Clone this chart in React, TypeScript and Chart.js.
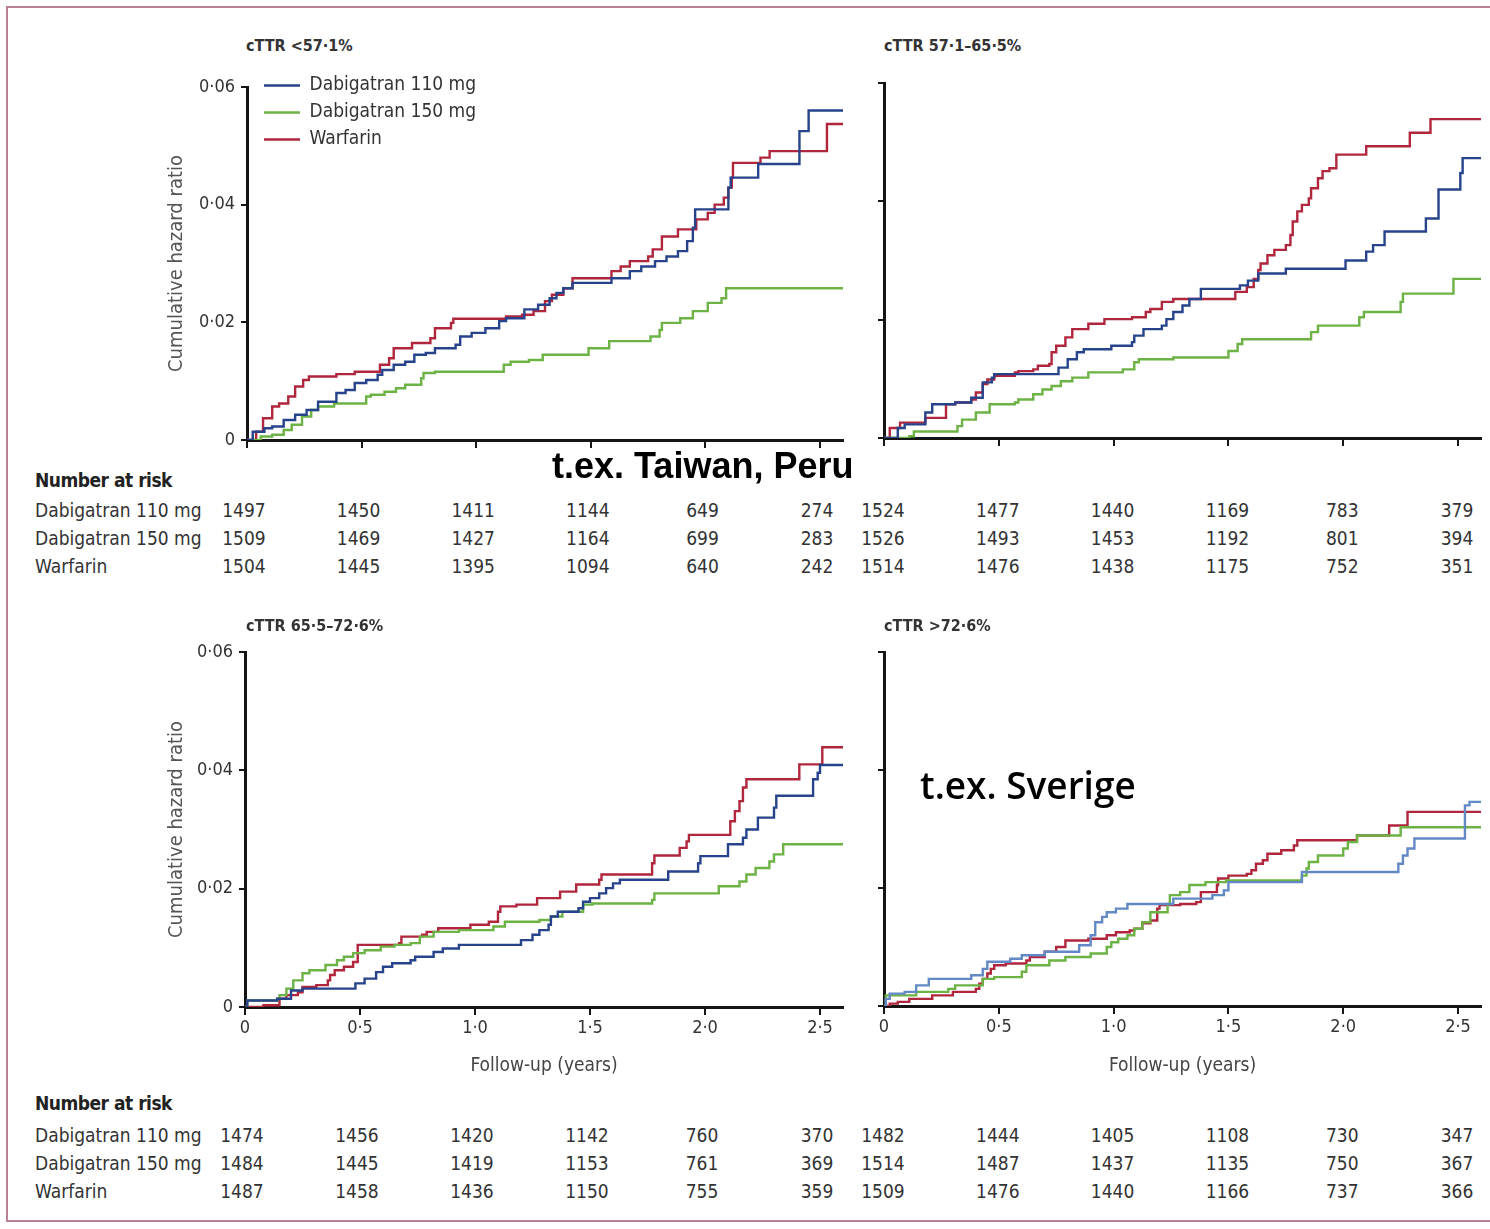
import React, { useEffect, useRef } from 'react';
import { Chart, registerables } from 'chart.js';

Chart.register(...registerables);

const FONT = '"DejaVu Sans Condensed", "Liberation Sans Narrow", "Arial Narrow", sans-serif';
Chart.defaults.font.family = FONT;
Chart.defaults.color = '#333';

// ---------- labels ----------
const seriesNames = ['Dabigatran 110 mg', 'Dabigatran 150 mg', 'Warfarin'];
const panelTitles = ['cTTR <57·1%', 'cTTR 57·1–65·5%', 'cTTR 65·5–72·6%', 'cTTR >72·6%'];
const xTickValues = [0, 0.5, 1, 1.5, 2, 2.5];
const xTickLabels = ['0', '0·5', '1·0', '1·5', '2·0', '2·5'];
const yTickValues = [0, 0.02, 0.04, 0.06];
const yTickLabels = ['0', '0·02', '0·04', '0·06'];
const X_MAX = 2.6;
const Y_MAX = 0.06;

// ---------- curves: [years, cumulative hazard] ----------
const pA_d110 = [[0,0],[0.025,0.0014],[0.076,0.002],[0.11,0.0023],[0.16,0.0034],[0.21,0.0043],[0.26,0.0051],[0.31,0.0065],[0.39,0.008],[0.43,0.0085],[0.47,0.0097],[0.52,0.0102],[0.57,0.0111],[0.59,0.0119],[0.64,0.0128],[0.69,0.0133],[0.73,0.0145],[0.78,0.0148],[0.82,0.0156],[0.91,0.0162],[0.93,0.0176],[0.98,0.0182],[1.04,0.019],[1.1,0.0202],[1.13,0.0207],[1.21,0.0222],[1.27,0.023],[1.32,0.0241],[1.35,0.025],[1.38,0.0258],[1.42,0.0267],[1.59,0.0275],[1.67,0.0287],[1.72,0.0295],[1.78,0.0304],[1.83,0.0312],[1.88,0.0321],[1.92,0.0338],[1.945,0.0361],[1.955,0.0392],[2.1,0.0429],[2.11,0.0446],[2.23,0.0469],[2.41,0.0525],[2.45,0.056],[2.6,0.056]];
const pA_d150 = [[0,0],[0.06,0.0006],[0.11,0.0009],[0.16,0.0017],[0.195,0.0026],[0.24,0.004],[0.28,0.0051],[0.31,0.0057],[0.38,0.0062],[0.52,0.0074],[0.54,0.0077],[0.6,0.0082],[0.65,0.0088],[0.69,0.0094],[0.76,0.0105],[0.77,0.0114],[0.82,0.0116],[1.12,0.0128],[1.15,0.0133],[1.23,0.0136],[1.29,0.0145],[1.49,0.0156],[1.58,0.0168],[1.76,0.0176],[1.8,0.0187],[1.81,0.0199],[1.89,0.0207],[1.945,0.0219],[2.01,0.0233],[2.07,0.0241],[2.09,0.0258],[2.6,0.0258]];
const pA_warf = [[0,0],[0.04,0.0014],[0.07,0.0037],[0.11,0.0057],[0.14,0.0062],[0.18,0.0074],[0.21,0.0091],[0.245,0.0102],[0.27,0.0108],[0.39,0.0112],[0.47,0.0116],[0.58,0.0128],[0.62,0.0139],[0.64,0.0156],[0.72,0.0165],[0.8,0.0173],[0.82,0.019],[0.89,0.0199],[0.9,0.0206],[1.13,0.021],[1.2,0.0213],[1.25,0.0219],[1.3,0.0236],[1.33,0.0247],[1.38,0.0258],[1.42,0.0275],[1.59,0.0287],[1.63,0.0295],[1.67,0.0304],[1.75,0.0312],[1.77,0.0324],[1.81,0.0346],[1.88,0.0358],[1.96,0.0375],[2.01,0.0386],[2.04,0.04],[2.08,0.0412],[2.1,0.0429],[2.115,0.0446],[2.12,0.0471],[2.24,0.048],[2.28,0.0491],[2.53,0.0537],[2.6,0.0537]];

const pB_d110 = [[0,0],[0.06,0.0017],[0.09,0.0023],[0.18,0.0043],[0.21,0.0057],[0.31,0.006],[0.38,0.0068],[0.43,0.0094],[0.47,0.0102],[0.48,0.0108],[0.76,0.0119],[0.8,0.0133],[0.84,0.0145],[0.87,0.015],[0.99,0.0156],[1.08,0.0162],[1.09,0.0173],[1.13,0.0184],[1.21,0.019],[1.23,0.0201],[1.26,0.0213],[1.3,0.0224],[1.33,0.0235],[1.38,0.0252],[1.55,0.0258],[1.585,0.0266],[1.63,0.0278],[1.75,0.0286],[2.01,0.03],[2.1,0.0315],[2.13,0.0326],[2.18,0.0349],[2.36,0.0371],[2.415,0.042],[2.51,0.0448],[2.52,0.0473],[2.6,0.0473]];
const pB_d150 = [[0,0],[0.11,0.0003],[0.13,0.0011],[0.32,0.002],[0.34,0.0031],[0.4,0.0043],[0.46,0.0057],[0.57,0.006],[0.585,0.0065],[0.65,0.0074],[0.69,0.0082],[0.73,0.0088],[0.77,0.0096],[0.82,0.0102],[0.89,0.0111],[1.04,0.0116],[1.09,0.0128],[1.11,0.0133],[1.26,0.0136],[1.5,0.0147],[1.54,0.0159],[1.56,0.0167],[1.86,0.0179],[1.89,0.019],[2.07,0.0204],[2.09,0.0213],[2.25,0.023],[2.26,0.0244],[2.48,0.0269],[2.6,0.0269]];
const pB_warf = [[0,0],[0.025,0.0017],[0.07,0.0026],[0.18,0.0034],[0.27,0.0057],[0.31,0.006],[0.38,0.0065],[0.4,0.0077],[0.43,0.0091],[0.45,0.0099],[0.48,0.0105],[0.57,0.0111],[0.585,0.0113],[0.65,0.0116],[0.67,0.0122],[0.72,0.0125],[0.73,0.0145],[0.75,0.0156],[0.79,0.017],[0.82,0.0184],[0.89,0.0193],[0.96,0.0201],[1.08,0.0204],[1.14,0.0213],[1.16,0.0218],[1.21,0.023],[1.26,0.0235],[1.53,0.0247],[1.58,0.0255],[1.61,0.0269],[1.63,0.0284],[1.64,0.0295],[1.67,0.0309],[1.7,0.0318],[1.75,0.0326],[1.77,0.0343],[1.78,0.0366],[1.8,0.0383],[1.82,0.0394],[1.85,0.0405],[1.86,0.0422],[1.89,0.0439],[1.91,0.0451],[1.94,0.0456],[1.97,0.0479],[2.1,0.0493],[2.29,0.0516],[2.38,0.0539],[2.6,0.0539]];

const pC_d110 = [[0,0],[0.01,0.0011],[0.14,0.0014],[0.2,0.0028],[0.25,0.0031],[0.48,0.004],[0.52,0.0048],[0.57,0.0059],[0.6,0.0068],[0.64,0.0074],[0.72,0.0079],[0.74,0.0085],[0.82,0.0093],[0.86,0.0099],[0.93,0.0105],[1.2,0.0113],[1.25,0.0122],[1.28,0.013],[1.32,0.0139],[1.33,0.0153],[1.36,0.0161],[1.45,0.0167],[1.47,0.0178],[1.5,0.0184],[1.54,0.0192],[1.57,0.0201],[1.6,0.0209],[1.63,0.0215],[1.84,0.0229],[1.97,0.0243],[1.98,0.0255],[2.1,0.0275],[2.165,0.0286],[2.18,0.03],[2.23,0.032],[2.3,0.0337],[2.31,0.0357],[2.47,0.0385],[2.49,0.0396],[2.5,0.0409],[2.6,0.0409]];
const pC_d150 = [[0,0],[0.01,0.0011],[0.14,0.0014],[0.15,0.002],[0.18,0.0031],[0.21,0.0045],[0.25,0.0057],[0.28,0.0062],[0.35,0.0071],[0.4,0.0079],[0.43,0.0085],[0.47,0.0091],[0.52,0.0096],[0.59,0.0102],[0.65,0.0105],[0.72,0.0108],[0.76,0.0119],[0.82,0.0127],[0.93,0.013],[1.08,0.0136],[1.13,0.0144],[1.28,0.0147],[1.33,0.0153],[1.38,0.0161],[1.47,0.0173],[1.51,0.0175],[1.77,0.0181],[1.78,0.0192],[2.06,0.0204],[2.15,0.0212],[2.18,0.0224],[2.22,0.0235],[2.28,0.0246],[2.3,0.0258],[2.34,0.0275],[2.6,0.0275]];
const pC_warf = [[0,0],[0.08,0.0003],[0.15,0.0014],[0.18,0.002],[0.23,0.0025],[0.25,0.0034],[0.31,0.0037],[0.36,0.0045],[0.37,0.0054],[0.39,0.0062],[0.43,0.0068],[0.47,0.0076],[0.49,0.0105],[0.67,0.0108],[0.68,0.0119],[0.77,0.0122],[0.79,0.0127],[0.84,0.0133],[0.98,0.0139],[1.06,0.0144],[1.1,0.0161],[1.11,0.017],[1.18,0.0173],[1.27,0.0184],[1.37,0.0195],[1.44,0.0207],[1.54,0.0215],[1.55,0.0224],[1.77,0.0243],[1.78,0.0256],[1.89,0.0269],[1.92,0.028],[1.93,0.0291],[2.11,0.0314],[2.13,0.0331],[2.15,0.0348],[2.165,0.0371],[2.18,0.0385],[2.41,0.041],[2.51,0.0439],[2.6,0.0439]];

const pD_d110 = [[0,0],[0.008,0.0012],[0.025,0.0021],[0.09,0.0024],[0.14,0.0035],[0.195,0.0046],[0.38,0.0052],[0.43,0.0063],[0.45,0.0075],[0.55,0.008],[0.6,0.0086],[0.7,0.0092],[0.85,0.0103],[0.9,0.012],[0.92,0.0142],[0.95,0.0151],[0.97,0.0159],[1.01,0.0165],[1.06,0.0173],[1.26,0.0182],[1.43,0.0188],[1.48,0.0196],[1.5,0.021],[1.82,0.0227],[2.24,0.0241],[2.26,0.0255],[2.28,0.0267],[2.31,0.0284],[2.53,0.034],[2.55,0.0346],[2.6,0.0346]];
const pD_d150 = [[0,0],[0.008,0.0018],[0.14,0.0024],[0.28,0.0029],[0.31,0.0035],[0.43,0.0046],[0.48,0.0049],[0.6,0.0058],[0.62,0.0069],[0.72,0.0077],[0.79,0.0083],[0.9,0.0089],[0.97,0.01],[0.99,0.0108],[1.02,0.0114],[1.06,0.012],[1.09,0.0131],[1.125,0.0142],[1.16,0.0159],[1.235,0.0173],[1.245,0.0188],[1.29,0.0193],[1.33,0.0205],[1.4,0.021],[1.49,0.0213],[1.82,0.0221],[1.84,0.0233],[1.85,0.0244],[1.89,0.0255],[2.0,0.0267],[2.02,0.0278],[2.06,0.0289],[2.25,0.0303],[2.6,0.0303]];
const pD_warf = [[0,0],[0.025,0.0004],[0.06,0.0007],[0.11,0.0012],[0.21,0.0018],[0.3,0.0024],[0.4,0.0029],[0.415,0.0038],[0.43,0.0046],[0.45,0.0055],[0.465,0.0063],[0.48,0.0069],[0.53,0.0072],[0.62,0.0077],[0.635,0.0083],[0.7,0.0092],[0.75,0.01],[0.79,0.0111],[0.89,0.0114],[0.97,0.012],[1.01,0.0125],[1.07,0.0128],[1.09,0.0131],[1.125,0.014],[1.16,0.0145],[1.19,0.0165],[1.2,0.0171],[1.29,0.0173],[1.36,0.0176],[1.38,0.0193],[1.45,0.0205],[1.455,0.0216],[1.5,0.0221],[1.58,0.0224],[1.6,0.023],[1.62,0.0241],[1.65,0.0247],[1.67,0.0258],[1.73,0.0264],[1.785,0.0272],[1.8,0.0281],[2.06,0.0289],[2.2,0.0306],[2.28,0.0329],[2.6,0.0329]];

// ---------- number at risk ----------
const riskA_d110 = [1497, 1450, 1411, 1144, 649, 274];
const riskA_d150 = [1509, 1469, 1427, 1164, 699, 283];
const riskA_warf = [1504, 1445, 1395, 1094, 640, 242];
const riskB_d110 = [1524, 1477, 1440, 1169, 783, 379];
const riskB_d150 = [1526, 1493, 1453, 1192, 801, 394];
const riskB_warf = [1514, 1476, 1438, 1175, 752, 351];
const riskC_d110 = [1474, 1456, 1420, 1142, 760, 370];
const riskC_d150 = [1484, 1445, 1419, 1153, 761, 369];
const riskC_warf = [1487, 1458, 1436, 1150, 755, 359];
const riskD_d110 = [1482, 1444, 1405, 1108, 730, 347];
const riskD_d150 = [1514, 1487, 1437, 1135, 750, 367];
const riskD_warf = [1509, 1476, 1440, 1166, 737, 366];

const annotations = ['t.ex. Taiwan, Peru', 't.ex. Sverige'];

// ---------- styling / layout ----------
const BLUE = '#27438c';
const BLUE_LIGHT = '#6388c6';
const GREEN = '#6cb244';
const RED = '#b0263d';
const AXIS = '#151515';

type PanelCfg = {
  left: number; top: number; width: number; height: number;
  padTop: number; padRight: number; yWidth: number; xHeight: number;
  showY: boolean; showX: boolean; legend: boolean; blue: string;
};

const panelA: PanelCfg = { left: 140, top: 60, width: 720, height: 400, padTop: 27, padRight: 17, yWidth: 107, xHeight: 20, showY: true, showX: false, legend: true, blue: BLUE };
const panelB: PanelCfg = { left: 860, top: 60, width: 630, height: 400, padTop: 23, padRight: 9, yWidth: 24, xHeight: 22, showY: false, showX: false, legend: false, blue: BLUE };
const panelC: PanelCfg = { left: 140, top: 630, width: 720, height: 450, padTop: 22, padRight: 17, yWidth: 105, xHeight: 73, showY: true, showX: true, legend: false, blue: BLUE };
const panelD: PanelCfg = { left: 860, top: 630, width: 630, height: 450, padTop: 22, padRight: 9, yWidth: 24, xHeight: 74, showY: false, showX: true, legend: false, blue: BLUE_LIGHT };

const labelFor = (values: number[], labels: string[], v: number) => {
  const i = values.findIndex((t) => Math.abs(t - v) < 1e-9);
  return i >= 0 ? labels[i] : '';
};

const legendPlace = {
  id: 'legendPlace',
  afterLayout(chart: any) {
    const lg = chart.legend;
    if (!lg || !chart.options.plugins.legend.display) return;
    const ca = chart.chartArea;
    lg.left = ca.left + 9;
    lg.top = ca.top - 19;
    lg.right = lg.left + lg.width;
    lg.bottom = lg.top + lg.height;
  },
};

function KMChart({ cfg, curves }: { cfg: PanelCfg; curves: number[][][] }) {
  const ref = useRef<HTMLCanvasElement>(null);
  useEffect(() => {
    const colors = [cfg.blue, GREEN, RED];
    const chart = new Chart(ref.current as HTMLCanvasElement, {
      type: 'line',
      data: {
        datasets: curves.map((pts, i) => ({
          label: seriesNames[i],
          data: pts.map(([x, y]) => ({ x, y })),
          borderColor: colors[i],
          backgroundColor: colors[i],
          borderWidth: 2.4,
          pointRadius: 0,
          stepped: 'before' as const,
          fill: false,
        })),
      },
      options: {
        responsive: false,
        animation: false,
        events: [],
        layout: { padding: { left: 0, top: cfg.padTop, right: cfg.padRight, bottom: 0 } },
        plugins: {
          tooltip: { enabled: false },
          legend: {
            display: cfg.legend,
            position: 'chartArea' as any,
            align: 'start',
            labels: {
              usePointStyle: true,
              pointStyle: 'line',
              pointStyleWidth: 36,
              color: '#333',
              padding: 8,
              font: { size: 19, family: FONT },
            },
          },
        },
        scales: {
          x: {
            type: 'linear',
            min: 0,
            max: X_MAX,
            afterBuildTicks: (s: any) => { s.ticks = xTickValues.map((v) => ({ value: v })); },
            afterFit: (s: any) => { s.height = cfg.xHeight; },
            ticks: {
              display: cfg.showX,
              autoSkip: false,
              maxRotation: 0,
              padding: 3,
              color: '#333',
              font: { size: 18 },
              callback: (v: any) => labelFor(xTickValues, xTickLabels, Number(v)),
            },
            grid: { drawOnChartArea: false, drawTicks: true, tickLength: 8, color: AXIS, lineWidth: 2 },
            border: { display: true, color: AXIS, width: 3 },
            title: {
              display: cfg.showX,
              text: 'Follow-up (years)',
              color: '#444',
              font: { size: 19 },
              padding: { top: 0, bottom: 3 },
            },
          },
          y: {
            type: 'linear',
            min: 0,
            max: Y_MAX,
            afterBuildTicks: (s: any) => { s.ticks = yTickValues.map((v) => ({ value: v })); },
            afterFit: (s: any) => { s.width = cfg.yWidth; },
            ticks: {
              display: cfg.showY,
              padding: 6,
              color: '#333',
              font: { size: 18 },
              callback: (v: any) => labelFor(yTickValues, yTickLabels, Number(v)),
            },
            grid: { drawOnChartArea: false, drawTicks: true, tickLength: 6, color: AXIS, lineWidth: 2 },
            border: { display: true, color: AXIS, width: 3 },
            title: {
              display: cfg.showY,
              text: 'Cumulative hazard ratio',
              color: '#555',
              font: { size: 20 },
              padding: { top: 25, bottom: 0 },
            },
          },
        },
      } as any,
      plugins: [legendPlace],
    });
    return () => chart.destroy();
  }, []);
  return (
    <canvas
      ref={ref}
      width={cfg.width}
      height={cfg.height}
      style={{ position: 'absolute', left: cfg.left, top: cfg.top, width: cfg.width, height: cfg.height }}
    />
  );
}

function Txt(p: { x: number; y: number; center?: boolean; style?: React.CSSProperties; children: React.ReactNode }) {
  const h = 24;
  return (
    <div
      style={{
        position: 'absolute',
        left: p.center ? p.x - 50 : p.x,
        top: p.y - h / 2,
        width: p.center ? 100 : undefined,
        height: h,
        lineHeight: h + 'px',
        textAlign: p.center ? 'center' : 'left',
        whiteSpace: 'nowrap',
        fontFamily: FONT,
        fontSize: 19,
        color: '#333',
        ...p.style,
      }}
    >
      {p.children}
    </div>
  );
}

const colCenters = (cfg: PanelCfg, shift: number) => {
  const plotLeft = cfg.left + cfg.yWidth;
  const plotRight = cfg.left + cfg.width - cfg.padRight;
  const ppy = (plotRight - plotLeft) / X_MAX;
  return xTickValues.map((t) => plotLeft + t * ppy + shift);
};

function RiskBlock({ headerY, rowYs, leftCfg, rightCfg, leftRows, rightRows }: {
  headerY: number; rowYs: number[]; leftCfg: PanelCfg; rightCfg: PanelCfg; leftRows: number[][]; rightRows: number[][];
}) {
  const lc = colCenters(leftCfg, -3);
  const rc = colCenters(rightCfg, -1);
  return (
    <>
      <Txt x={35} y={headerY} style={{ fontWeight: 'bold', fontSize: 19, letterSpacing: -0.5, color: '#222' }}>Number at risk</Txt>
      {seriesNames.map((n, i) => (
        <Txt key={'l' + i} x={35} y={rowYs[i]}>{n}</Txt>
      ))}
      {leftRows.map((row, i) => row.map((v, j) => (
        <Txt key={'a' + i + '-' + j} x={lc[j]} y={rowYs[i]} center style={{ fontSize: 19 }}>{v}</Txt>
      )))}
      {rightRows.map((row, i) => row.map((v, j) => (
        <Txt key={'b' + i + '-' + j} x={rc[j]} y={rowYs[i]} center style={{ fontSize: 19 }}>{v}</Txt>
      )))}
    </>
  );
}

export default function App() {
  return (
    <div style={{ position: 'absolute', left: 0, top: 0, width: 1490, height: 1229, overflow: 'hidden', background: '#fff' }}>
      <div style={{ position: 'absolute', left: 6, top: 6, width: 1500, height: 1216, border: '2px solid #b88290', boxSizing: 'border-box' }} />

      <KMChart cfg={panelA} curves={[pA_d110, pA_d150, pA_warf]} />
      <KMChart cfg={panelB} curves={[pB_d110, pB_d150, pB_warf]} />
      <KMChart cfg={panelC} curves={[pC_d110, pC_d150, pC_warf]} />
      <KMChart cfg={panelD} curves={[pD_d110, pD_d150, pD_warf]} />

      <Txt x={246} y={46} style={{ fontWeight: 'bold', fontSize: 16, color: '#333' }}>{panelTitles[0]}</Txt>
      <Txt x={884} y={46} style={{ fontWeight: 'bold', fontSize: 16, color: '#333' }}>{panelTitles[1]}</Txt>
      <Txt x={246} y={626} style={{ fontWeight: 'bold', fontSize: 16, color: '#333' }}>{panelTitles[2]}</Txt>
      <Txt x={884} y={626} style={{ fontWeight: 'bold', fontSize: 16, color: '#333' }}>{panelTitles[3]}</Txt>

      <RiskBlock
        headerY={480}
        rowYs={[510, 538, 566]}
        leftCfg={panelA}
        rightCfg={panelB}
        leftRows={[riskA_d110, riskA_d150, riskA_warf]}
        rightRows={[riskB_d110, riskB_d150, riskB_warf]}
      />
      <RiskBlock
        headerY={1103}
        rowYs={[1135, 1163, 1191]}
        leftCfg={panelC}
        rightCfg={panelD}
        leftRows={[riskC_d110, riskC_d150, riskC_warf]}
        rightRows={[riskD_d110, riskD_d150, riskD_warf]}
      />

      <Txt x={552} y={466} style={{ fontFamily: '"Liberation Sans", Arial, sans-serif', fontWeight: 'bold', fontSize: 36, color: '#000' }}>{annotations[0]}</Txt>
      <Txt x={920} y={785} style={{ fontFamily: '"Open Sans", "Noto Sans", sans-serif', fontWeight: 600, fontSize: 37, color: '#000' }}>{annotations[1]}</Txt>
    </div>
  );
}
